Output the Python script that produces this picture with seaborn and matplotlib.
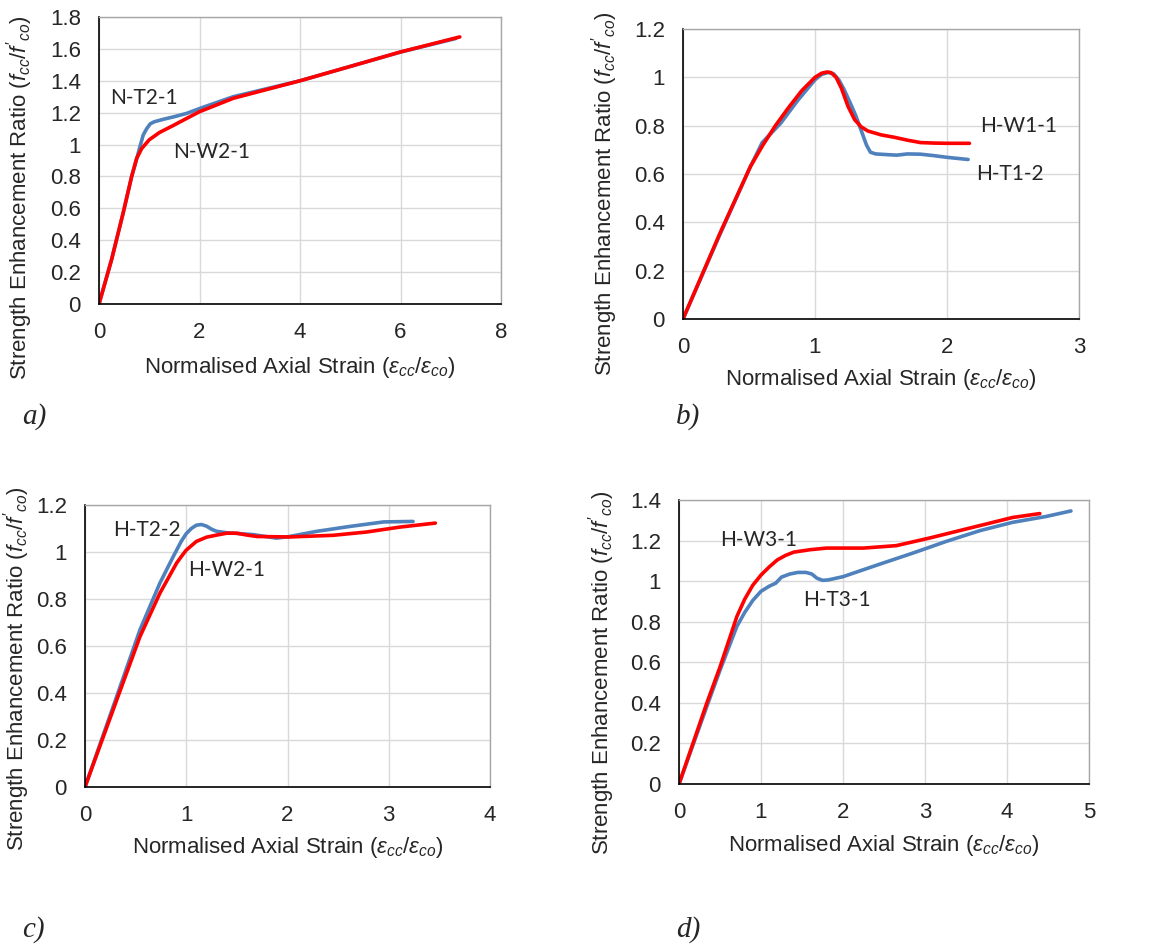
import numpy as np
import pandas as pd
import matplotlib
matplotlib.use("Agg")
import matplotlib.pyplot as plt
import seaborn as sns

# ---- data (normalised strain, strength ratio) ----
# panel a
a_t_x = [0, 0.25, 0.48, 0.65, 0.75, 0.8, 0.88, 0.95, 1.02, 1.1, 1.3, 1.5, 1.74, 2.01, 2.67, 4.0, 5.0, 6.0, 7.1]
a_t_y = [0, 0.28, 0.57, 0.80, 0.91, 0.97, 1.06, 1.10, 1.13, 1.143, 1.16, 1.175, 1.195, 1.227, 1.30, 1.40, 1.49, 1.58, 1.665]
a_w_x = [0, 0.25, 0.48, 0.65, 0.75, 0.85, 1.0, 1.2, 1.48, 1.75, 2.0, 2.67, 4.0, 5.0, 5.99, 7.18]
a_w_y = [0, 0.277, 0.57, 0.80, 0.914, 0.975, 1.03, 1.075, 1.12, 1.165, 1.206, 1.29, 1.40, 1.49, 1.58, 1.675]

# panel b
b_t_x = [0, 0.28, 0.51, 0.6, 0.74, 0.87, 1.0, 1.05, 1.1, 1.14, 1.18, 1.22, 1.27, 1.31, 1.35, 1.39, 1.42,
         1.46, 1.55, 1.62, 1.7, 1.8, 1.9, 2.0, 2.16]
b_t_y = [0, 0.35, 0.63, 0.73, 0.81, 0.905, 0.99, 1.012, 1.02, 1.015, 0.99, 0.95, 0.89, 0.84, 0.78, 0.72, 0.69,
         0.683, 0.68, 0.678, 0.683, 0.682, 0.676, 0.669, 0.66]
b_w_x = [0, 0.28, 0.51, 0.6, 0.7, 0.8, 0.9, 1.0, 1.05, 1.09, 1.12, 1.16, 1.2, 1.25, 1.3, 1.35, 1.4, 1.5,
         1.6, 1.7, 1.8, 1.9, 2.0, 2.17]
b_w_y = [0, 0.355, 0.63, 0.715, 0.80, 0.875, 0.945, 1.0, 1.017, 1.022, 1.02, 1.0, 0.955, 0.88, 0.825, 0.795,
         0.778, 0.762, 0.752, 0.74, 0.73, 0.728, 0.727, 0.727]

# panel c
c_t_x = [0, 0.313, 0.543, 0.74, 0.872, 0.95, 1.0, 1.05, 1.1, 1.15, 1.2, 1.25, 1.3, 1.4, 1.66, 1.89, 2.02,
         2.29, 2.62, 2.95, 3.24]
c_t_y = [0, 0.385, 0.669, 0.868, 0.981, 1.045, 1.078, 1.10, 1.114, 1.117, 1.11, 1.097, 1.088, 1.082, 1.074,
         1.059, 1.066, 1.088, 1.109, 1.128, 1.13]
c_w_x = [0, 0.313, 0.543, 0.74, 0.905, 0.95, 1.0, 1.1, 1.2, 1.3, 1.4, 1.5, 1.6, 1.7, 2.02, 2.45, 2.78, 3.11, 3.46]
c_w_y = [0, 0.37, 0.64, 0.825, 0.953, 0.98, 1.008, 1.045, 1.063, 1.072, 1.08, 1.08, 1.072, 1.066, 1.064, 1.071,
         1.085, 1.106, 1.123]

# panel d
d_t_x = [0, 0.34, 0.503, 0.706, 0.8, 0.9, 1.0, 1.1, 1.18, 1.25, 1.35, 1.45, 1.55, 1.62, 1.68, 1.75, 1.82,
         2.0, 2.45, 2.857, 3.26, 3.67, 4.07, 4.48, 4.78]
d_t_y = [0, 0.383, 0.564, 0.777, 0.845, 0.905, 0.95, 0.975, 0.99, 1.02, 1.035, 1.043, 1.043, 1.035, 1.015,
         1.004, 1.006, 1.022, 1.084, 1.139, 1.196, 1.249, 1.29, 1.319, 1.346]
d_w_x = [0, 0.34, 0.503, 0.706, 0.8, 0.9, 1.0, 1.1, 1.2, 1.3, 1.4, 1.6, 1.8, 2.25, 2.65, 3.06, 3.47, 4.07, 4.40]
d_w_y = [0, 0.40, 0.58, 0.826, 0.91, 0.98, 1.03, 1.07, 1.105, 1.127, 1.143, 1.155, 1.163, 1.163, 1.175, 1.213,
         1.254, 1.314, 1.333]

panels = [
    dict(t=(a_t_x, a_t_y), w=(a_w_x, a_w_y), names=("N-T2-1", "N-W2-1"),
         pos=((0.22, 1.295), (1.48, 0.955)), xmax=8, ymax=1.8, xstep=2, ystep=0.2,
         box=(99, 17, 501, 304), ylab=(-0.197, 0.37), xlab=-0.22, tag="a)", tagpos=(22, 417)),
    dict(t=(b_t_x, b_t_y), w=(b_w_x, b_w_y), names=("H-T1-2", "H-W1-1"),
         pos=((2.22, 0.60), (2.25, 0.798)), xmax=3, ymax=1.2, xstep=1, ystep=0.2,
         box=(683, 29, 1079, 319), ylab=(-0.197, 0.43), xlab=-0.21, tag="b)", tagpos=(676, 417)),
    dict(t=(c_t_x, c_t_y), w=(c_w_x, c_w_y), names=("H-T2-2", "H-W2-1"),
         pos=((0.28, 1.095), (1.014, 0.924)), xmax=4, ymax=1.2, xstep=1, ystep=0.2,
         box=(85, 505, 490, 787), ylab=(-0.168, 0.418), xlab=-0.213, tag="c)", tagpos=(22, 930)),
    dict(t=(d_t_x, d_t_y), w=(d_w_x, d_w_y), names=("H-T3-1", "H-W3-1"),
         pos=((1.518, 0.905), (0.503, 1.201)), xmax=5, ymax=1.4, xstep=1, ystep=0.2,
         box=(679, 500, 1089, 784), ylab=(-0.188, 0.39), xlab=-0.215, tag="d)", tagpos=(676, 930)),
]

sns.set_style("white")
plt.rcParams['font.family'] = ['Liberation Sans', 'DejaVu Sans']
plt.rcParams['mathtext.fontset'] = 'custom'
plt.rcParams['mathtext.it'] = 'Liberation Sans:italic'
plt.rcParams['mathtext.rm'] = 'Liberation Sans'

W, H = 1156, 951
fig = plt.figure(figsize=(W / 100, H / 100), dpi=100)

blue = "#4f81bd"
red = "#ff0000"

for p in panels:
    l, t, r, b = p["box"]
    ax = fig.add_axes([l / W, 1 - b / H, (r - l) / W, (b - t) / H])

    df_t = pd.DataFrame({"x": p["t"][0], "y": p["t"][1]})
    df_w = pd.DataFrame({"x": p["w"][0], "y": p["w"][1]})
    sns.lineplot(data=df_t, x="x", y="y", ax=ax, color=blue, lw=2.6, estimator=None, sort=False)
    sns.lineplot(data=df_w, x="x", y="y", ax=ax, color=red, lw=2.6, estimator=None, sort=False)

    ax.set_xlim(0, p["xmax"])
    ax.set_ylim(0, p["ymax"])
    ax.set_xticks(np.arange(0, p["xmax"] + 0.001, p["xstep"]))
    ax.set_yticks(np.round(np.arange(0, p["ymax"] + 0.001, p["ystep"]), 1))
    ax.set_yticklabels(["{:g}".format(v) for v in ax.get_yticks()])
    ax.tick_params(length=0, labelsize=16, pad=13)
    ax.grid(True, color="#d9d9d9", lw=1.0)
    ax.set_axisbelow(True)

    for s in ["top", "right"]:
        ax.spines[s].set_color("#a6a6a6")
        ax.spines[s].set_linewidth(1.0)
    for s in ["left", "bottom"]:
        ax.spines[s].set_color("black")
        ax.spines[s].set_linewidth(1.2)

    ax.set_xlabel(r"Normalised Axial Strain ($\varepsilon_{cc}/\varepsilon_{co}$)", fontsize=16)
    ax.set_ylabel(r"Strength Enhancement Ratio ($f_{cc}/f'_{co}$)", fontsize=16)
    ax.xaxis.label.set_va("center")
    ax.yaxis.label.set_va("center")
    ax.xaxis.set_label_coords(0.5, p["xlab"])
    ax.yaxis.set_label_coords(p["ylab"][0], p["ylab"][1])

    for name, (px, py) in zip(p["names"], p["pos"]):
        ax.text(px, py, name, fontsize=15, family="Lato", va="center", ha="left")

    fig.text(p["tagpos"][0] / W, 1 - p["tagpos"][1] / H, p["tag"], fontsize=21,
             family="Liberation Serif", style="italic", va="center", ha="left")

fig.savefig("out.png", dpi=100)
